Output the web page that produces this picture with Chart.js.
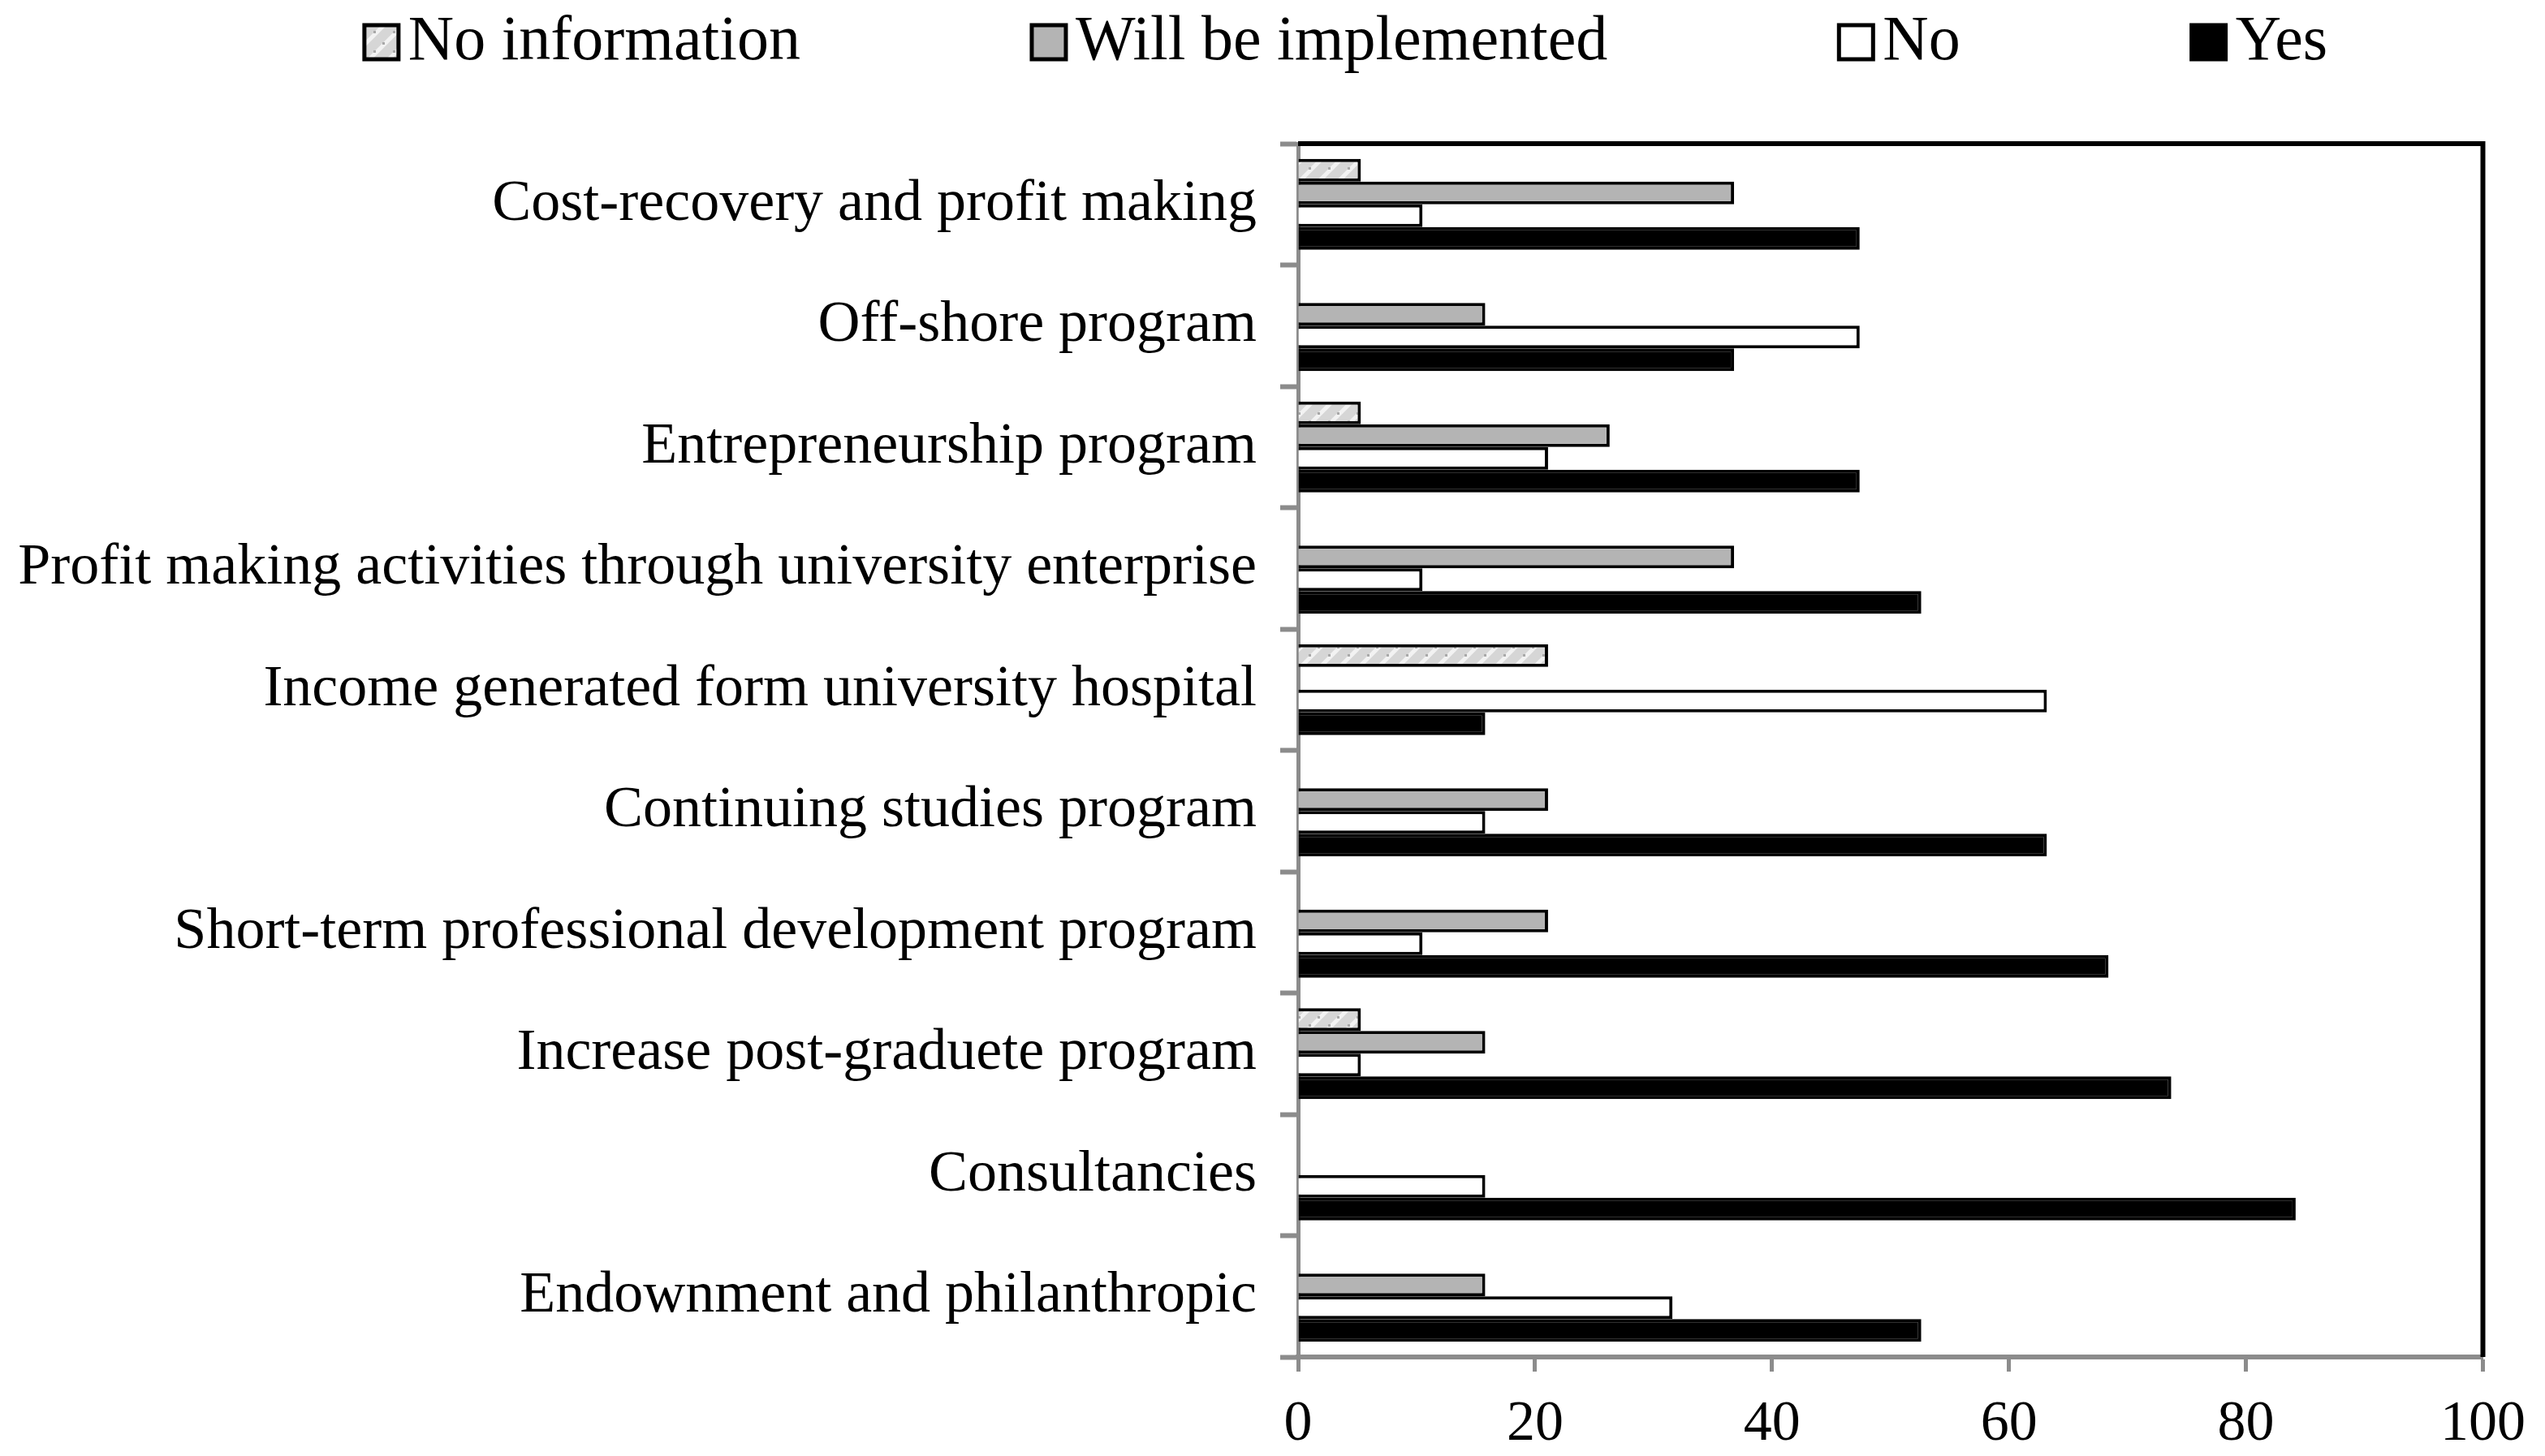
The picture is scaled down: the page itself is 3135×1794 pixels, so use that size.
<!DOCTYPE html>
<html>
<head>
<meta charset="utf-8">
<script src="https://cdn.jsdelivr.net/npm/chart.js@4.4.0/dist/chart.umd.min.js"></script>
<style>
  html, body { margin: 0; padding: 0; background: #fff; }
  #wrap { width: 3135px; height: 1794px; }
</style>
</head>
<body>
<div id="wrap"><canvas id="chart" width="3135" height="1794"></canvas></div>
<script>
// categories, top to bottom
const categories = [
    'Cost-recovery and profit making',
    'Off-shore program',
    'Entrepreneurship program',
    'Profit making activities through university enterprise',
    'Income generated form university hospital',
    'Continuing studies program',
    'Short-term professional development program',
    'Increase post-graduete program',
    'Consultancies',
    'Endownment and philanthropic'
];

// percentages
const noInformation = [5.3, 0, 5.3, 0, 21.1, 0, 0, 5.3, 0, 0];
const willBeImplemented = [36.8, 15.8, 26.3, 36.8, 0, 21.1, 21.1, 15.8, 0, 15.8];
const noValues = [10.5, 47.4, 21.1, 10.5, 63.2, 15.8, 10.5, 5.3, 15.8, 31.6];
const yesValues = [47.4, 36.8, 47.4, 52.6, 15.8, 63.2, 68.4, 73.7, 84.2, 52.6];

const xTicks = [0, 20, 40, 60, 80, 100];

// speckled light fill for "No information"
function makePattern() {
    const c = document.createElement('canvas');
    c.width = 24; c.height = 24;
    const g = c.getContext('2d');
    g.fillStyle = '#d6d6d6';
    g.fillRect(0, 0, 24, 24);
    g.strokeStyle = '#f2f2f2';
    g.lineWidth = 5;
    g.beginPath();
    g.moveTo(-6, 6); g.lineTo(6, -6);
    g.moveTo(0, 24); g.lineTo(24, 0);
    g.moveTo(18, 30); g.lineTo(30, 18);
    g.stroke();
    g.fillStyle = '#a8a8a8';
    g.fillRect(4, 14, 3, 3);
    g.fillRect(15, 4, 3, 3);
    return g.createPattern(c, 'repeat');
}

const serif = 'Liberation Serif, Times New Roman, serif';

// black frame on top and right of the plot
const framePlugin = {
    id: 'frame',
    afterDatasetsDraw(chart) {
        const { ctx, chartArea: a } = chart;
        ctx.save();
        ctx.strokeStyle = '#000';
        ctx.lineWidth = 6;
        ctx.beginPath();
        ctx.moveTo(a.left, a.top);
        ctx.lineTo(a.right, a.top);
        ctx.lineTo(a.right, a.bottom);
        ctx.stroke();
        ctx.restore();
    }
};

// legend drawn in one row with wide gaps, boxes close to the text
const legendRow = {
    id: 'legendRow',
    afterDraw(chart) {
        const ctx = chart.ctx;
        const sets = chart.data.datasets;
        const boxW = 42, boxH = 42, boxGap = 12, itemGap = 285, baseY = 73;
        ctx.save();
        ctx.font = '78px ' + serif;
        ctx.textBaseline = 'alphabetic';
        const widths = sets.map(d => boxW + boxGap + ctx.measureText(d.label).width);
        const total = widths.reduce((s, w) => s + w, 0) + itemGap * (sets.length - 1);
        let x = 1658 - total / 2;
        sets.forEach((d, i) => {
            ctx.fillStyle = d.backgroundColor;
            ctx.fillRect(x, baseY - boxH, boxW, boxH);
            ctx.lineWidth = 5;
            ctx.strokeStyle = '#000';
            ctx.strokeRect(x, baseY - boxH, boxW, boxH);
            ctx.fillStyle = '#000';
            ctx.fillText(d.label, x + boxW + boxGap, baseY);
            x += widths[i] + itemGap;
        });
        ctx.restore();
    }
};

const ctx = document.getElementById('chart').getContext('2d');
new Chart(ctx, {
    type: 'bar',
    data: {
        labels: categories,
        datasets: [
            { label: 'No information', data: noInformation, backgroundColor: makePattern() },
            { label: 'Will be implemented', data: willBeImplemented, backgroundColor: '#b4b4b4' },
            { label: 'No', data: noValues, backgroundColor: '#ffffff' },
            { label: 'Yes', data: yesValues, backgroundColor: '#000000' }
        ].map(d => Object.assign(d, {
            borderColor: '#000',
            borderWidth: 4,
            barPercentage: 1.0,
            categoryPercentage: 0.75
        }))
    },
    options: {
        indexAxis: 'y',
        responsive: false,
        animation: false,
        layout: { padding: { top: 177, right: 71, bottom: 0, left: 10 } },
        plugins: {
            legend: { display: false },
            tooltip: { enabled: false }
        },
        scales: {
            x: {
                min: 0,
                max: 100,
                afterBuildTicks(axis) {
                    axis.ticks = xTicks.map(v => ({ value: v }));
                },
                afterFit(axis) { axis.height = 122; },
                border: { color: '#8c8c8c', width: 6 },
                grid: {
                    drawOnChartArea: false,
                    color: '#8c8c8c',
                    tickLength: 18,
                    tickWidth: 5
                },
                ticks: {
                    font: { family: serif, size: 70 },
                    color: '#000',
                    padding: 24,
                    maxRotation: 0
                }
            },
            y: {
                afterFit(axis) { axis.width = 1589; },
                border: { color: '#8c8c8c', width: 5 },
                grid: {
                    offset: true,
                    drawOnChartArea: false,
                    color: '#8c8c8c',
                    tickLength: 22,
                    tickWidth: 6
                },
                ticks: {
                    font: { family: serif, size: 72 },
                    color: '#000',
                    padding: 29
                }
            }
        }
    },
    plugins: [framePlugin, legendRow]
});
</script>
</body>
</html>
